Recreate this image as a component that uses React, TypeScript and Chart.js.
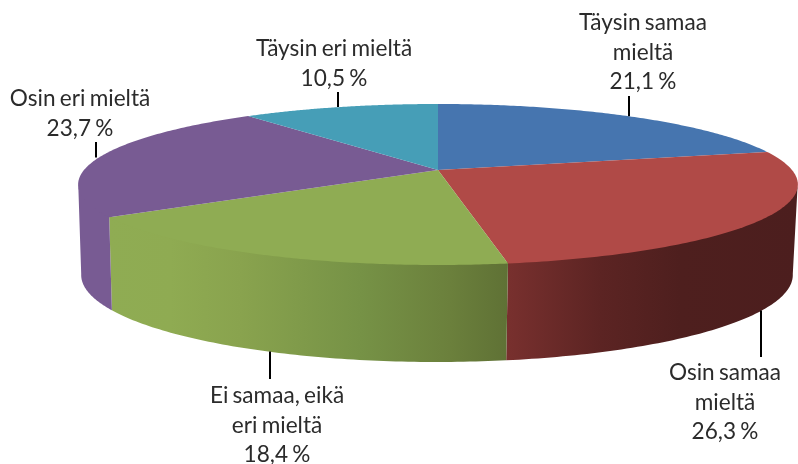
import React, { useEffect, useRef } from "react";
import { Chart, registerables } from "chart.js";

Chart.register(...registerables);

// ---- data ----
const categories = ["Täysin samaa mieltä", "Osin samaa mieltä", "Ei samaa, eikä eri mieltä", "Osin eri mieltä", "Täysin eri mieltä"];
const values = [21.1, 26.3, 18.4, 23.7, 10.5];
const labelLines = [["Täysin samaa", "mieltä"], ["Osin samaa", "mieltä"], ["Ei samaa, eikä", "eri mieltä"], ["Osin eri mieltä"], ["Täysin eri mieltä"]];

// ---- style ----
const topColors = ["#4675AF", "#B04A47", "#8FAC53", "#785B93", "#469EB7"];
const wallStops: [number, number, string][][] = [
  [],
  [[508, 798, "rgb(120,48,46)"], [600, 798, "rgb(92,36,35)"], [680, 798, "rgb(78,31,30)"], [798, 798, "rgb(76,30,30)"]],
  [[108, 508, "rgb(143,172,83)"], [170, 508, "rgb(143,171,82)"], [240, 508, "rgb(137,163,78)"], [360, 508, "rgb(118,146,70)"], [450, 508, "rgb(107,128,60)"], [508, 508, "rgb(95,113,53)"]],
  [[78, 112, "rgb(120,91,147)"], [112, 112, "rgb(120,91,147)"]],
  [],
];
// [label centre x, first baseline y, leader far-end y, leader x nudge] per slice
const labelLayout = [
  [643, 30, 96, 0],
  [725, 380, 357, -1],
  [277, 403, 379, 2],
  [80, 106, 142, -3],
  [334, 56, 92, -2],
];
const TOP = { cx: 438, cy: 170, rx: 354, ry: 77.9, k: 0.18 };
const BOTTOM = { cx: 437, cy: 259.3, rx: 350, ry: 84.2, k: 0.18 };
const LINE_HEIGHT = 29.5;
const FONT = '22.6px Lato, "Open Sans", sans-serif';

type Ring = typeof TOP;
const project = (r: Ring, a: number): [number, number] => {
  const u = Math.cos(a), v = Math.sin(a), d = 1 - r.k * v;
  return [r.cx + (r.rx * u) / d, r.cy + (r.ry * v) / d];
};
const pie3d = {
  id: "pie3d",
  beforeDatasetDraw(chart: any, args: any) {
    const ctx: any = chart.ctx;
    const arcs = chart.getDatasetMeta(args.index).data;
    const visLo = 0.17, visHi = Math.PI - 0.17;
    // walls (their upper edge is tucked under the top face so no seam shows)
    arcs.forEach((arc: any, i: number) => {
      const lo = Math.max(arc.startAngle, visLo), hi = Math.min(arc.endAngle, visHi);
      const stops = wallStops[i];
      if (hi <= lo || !stops.length) return;
      const x0 = stops[0][0], x1 = stops[stops.length - 1][0];
      const g = ctx.createLinearGradient(x0, 0, x1, 0);
      stops.forEach((s) => g.addColorStop((s[0] - x0) / (x1 - x0), s[2]));
      ctx.beginPath();
      const n = 80;
      for (let j = 0; j <= n; j++) {
        const p = project(TOP, lo + ((hi - lo) * j) / n);
        const y = p[1] - 2;
        j ? ctx.lineTo(p[0], y) : ctx.moveTo(p[0], y);
      }
      for (let j = n; j >= 0; j--) {
        const p = project(BOTTOM, lo + ((hi - lo) * j) / n);
        ctx.lineTo(p[0], p[1]);
      }
      ctx.closePath();
      ctx.fillStyle = g;
      ctx.fill();
    });
    // top faces
    arcs.forEach((arc: any) => {
      ctx.beginPath();
      ctx.moveTo(TOP.cx, TOP.cy);
      const n = 120;
      for (let j = 0; j <= n; j++) {
        const p = project(TOP, arc.startAngle + ((arc.endAngle - arc.startAngle) * j) / n);
        ctx.lineTo(p[0], p[1]);
      }
      ctx.closePath();
      ctx.fillStyle = arc.options.backgroundColor;
      ctx.fill();
    });
    // leaders and labels
    ctx.font = FONT;
    ctx.wordSpacing = "-1.5px";
    ctx.textAlign = "center";
    ctx.textBaseline = "alphabetic";
    arcs.forEach((arc: any, i: number) => {
      const mid = (arc.startAngle + arc.endAngle) / 2;
      const front = Math.sin(mid) > 0.2;
      const s = project(front ? BOTTOM : TOP, mid);
      const [lx, ly, endY, dx] = labelLayout[i];
      const x = Math.round(s[0]) + dx;
      ctx.strokeStyle = "#000";
      ctx.lineWidth = 2;
      ctx.beginPath();
      ctx.moveTo(x, s[1]);
      ctx.lineTo(x, endY);
      ctx.stroke();
      ctx.fillStyle = "#2b2b2b";
      const lines = [...labelLines[i], `${String(values[i]).replace(".", ",")} %`];
      lines.forEach((t, j) => ctx.fillText(t, lx, ly + j * LINE_HEIGHT));
    });
    return false;
  },
};

export default function App() {
  const ref = useRef<HTMLCanvasElement>(null);
  useEffect(() => {
    const chart = new Chart(ref.current!, {
      type: "pie",
      data: { labels: categories, datasets: [{ data: values, backgroundColor: topColors, borderWidth: 0 }] },
      options: {
        responsive: false,
        animation: false,
        plugins: { legend: { display: false }, tooltip: { enabled: false } },
      },
      plugins: [pie3d],
    } as any);
    return () => chart.destroy();
  }, []);
  return (
    <div style={{ position: "fixed", left: 0, top: 0, width: 798, height: 464, background: "#fff" }}>
      <canvas ref={ref} width={798} height={464} style={{ display: "block" }} />
    </div>
  );
}
